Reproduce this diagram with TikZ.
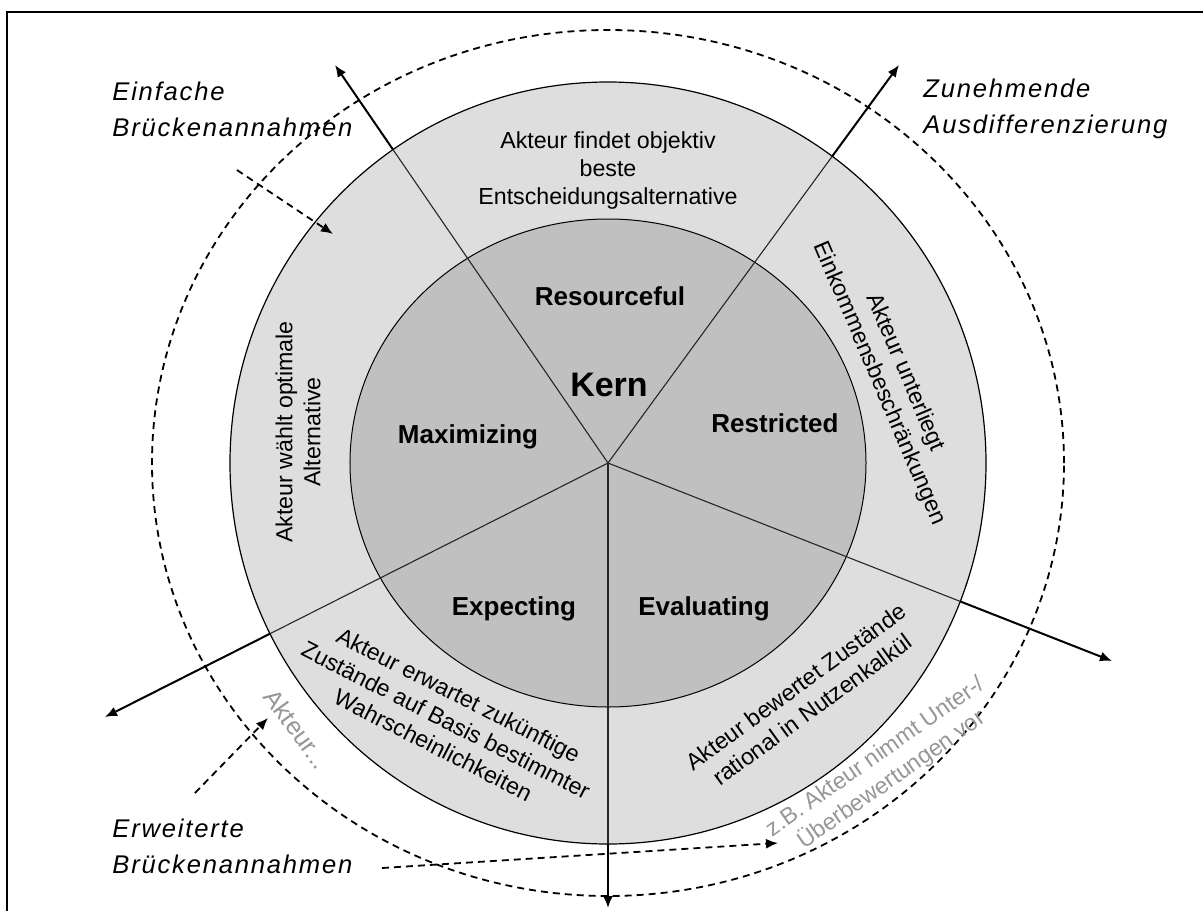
\documentclass[tikz,border=0pt]{standalone}
\usepackage{fontspec}
\setmainfont{Liberation Sans}
\newfontfamily\bridgefont[LetterSpace=7]{Liberation Sans}
\usepackage{tikz}
\usetikzlibrary{arrows.meta,positioning}
\definecolor{kerngray}{RGB}{192,192,192}
\definecolor{ringgray}{RGB}{222,222,222}
\definecolor{notegray}{RGB}{150,150,150}
\tikzstyle{core} = [font=\fontsize{13}{15}\selectfont\bfseries]
\tikzstyle{ringtext} = [font=\fontsize{11.6}{14}\selectfont, align=center, inner sep=0pt]
\tikzstyle{note} = [ringtext, text=notegray]
\tikzstyle{bridge} = [font=\bridgefont\fontsize{12.8}{18}\selectfont\itshape, align=left, anchor=west, inner sep=0pt]
\tikzstyle{spoke} = [line width=0.55pt, draw=black!85]
\tikzstyle{arrow} = [line width=1pt,-{Latex[length=6pt,width=5pt]}]
\tikzstyle{hint} = [line width=0.9pt, dash pattern=on 3.5pt off 2.5pt, -{Latex[length=6pt,width=5pt]}]

\begin{document}
\begin{tikzpicture}[x=0.5pt,y=0.5pt]
\useasboundingbox (-608,-448) rectangle (595,463);
% Frame
\draw[line width=1pt] (-601,-448) -- (-601,451) -- (595,451);

% Rings
\coordinate (c) at (0,0);
\draw[fill=ringgray, line width=0.6pt] (c) ellipse [x radius=189pt, y radius=190.5pt];
\draw[fill=kerngray, line width=0.5pt] (c) ellipse [x radius=129pt, y radius=122pt];
\draw[line width=0.9pt, dash pattern=on 3.5pt off 2.5pt] (c) ellipse [x radius=228pt, y radius=216.5pt];

% Spokes
\coordinate (t1) at (-273,398);
\coordinate (t2) at (291,398);
\coordinate (t3) at (504,-198);
\coordinate (t4) at (0,-445);
\coordinate (t5) at (-503,-254);
\coordinate (o1) at (-215,313.4);
\coordinate (o2) at (224.2,306.7);
\coordinate (o3) at (352.2,-138.4);
\coordinate (o4) at (0,-381);
\coordinate (o5) at (-338,-170.7);
\foreach \i in {1,...,5} {
  \draw[spoke] (c) -- (o\i);
  \draw[arrow] (o\i) -- (t\i);
}

% Core labels
\node[core, font=\fontsize{17}{20}\selectfont\bfseries] (kern) at (1,78) {Kern};
\node[core] (res) at (2,167) {Resourceful};
\node[core] (restr) at (167,40) {Restricted};
\node[core] (max) at (-140,26) {Maximizing};
\node[core] (exp) at (-94,-146) {Expecting};
\node[core] (eval) at (96,-146) {Evaluating};

% Ring texts
\node[ringtext] (tres) at (0,292) {Akteur findet objektiv\\beste\\Entscheidungsalternative};
\node[ringtext, rotate=90] (tmax) at (-310,31) {Akteur wählt optimale\\Alternative};
\node[ringtext, rotate=-67] (trestr) at (284,85) {Akteur unterliegt\\Einkommensbeschränkungen};
\node[ringtext, rotate=36] (teval) at (196,-235) {Akteur bewertet Zustände\\rational in Nutzenkalkül};
\node[ringtext, rotate=-27] (texp) at (-162,-257) {Akteur erwartet zukünftige\\Zustände auf Basis bestimmter\\Wahrscheinlichkeiten};

% Notes outside
\node[note, font=\fontsize{12.5}{14}\selectfont, rotate=-54] (nakt) at (-311,-266) {Akteur...};
\node[note, rotate=35] (nzb) at (276,-306) {z.B. Akteur nimmt Unter-/\\Überbewertungen vor};

% Bridge labels
\node[bridge] (einf) at (-496,354) {Einfache\\Brückenannahmen};
\node[bridge] (zun) at (315,354) {Zunehmende\\Ausdifferenzierung};
\node[bridge] (erw) at (-496,-383) {Erweiterte\\Brückenannahmen};

% Dashed hints
\coordinate (h1) at (-371,293);
\coordinate (h1e) at (-275,229);
\coordinate (h2) at (-413,-330);
\coordinate (h2e) at (-340,-255);
\coordinate (h3) at (-226,-405);
\coordinate (h3e) at (170,-380);
\draw[hint] (h1) -- (h1e);
\draw[hint] (h2) -- (h2e);
\draw[hint] (h3) -- (h3e);
\end{tikzpicture}
\end{document}
